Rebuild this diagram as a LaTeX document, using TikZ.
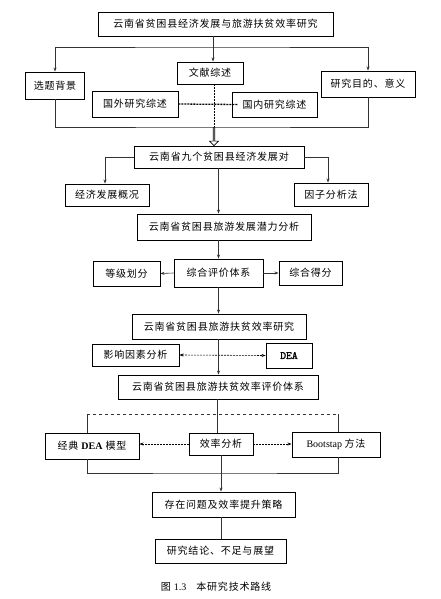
\documentclass[tikz,border=0pt]{standalone}
\usepackage{fontspec}
\setmainfont{Liberation Serif}
\newfontfamily\cjk[LetterSpace=8]{Noto Sans CJK SC}
\newfontfamily\deafont[FakeBold=2]{Latin Modern Mono}
\usetikzlibrary{positioning, calc, arrows.meta, shapes.arrows}

\begin{document}
\begin{tikzpicture}[x=1pt, y=-1pt, >={Stealth[length=4pt,width=3pt]},
    box/.style 2 args={draw, line width=0.9pt, inner sep=0pt, minimum width=#1, minimum height=#2,
        font=\cjk\fontsize{10}{12}\selectfont},
    link/.style={line width=0.6pt, black!80},
    dotlink/.style={line width=0.6pt, dashed, dash pattern=on 2pt off 1pt}]
    \useasboundingbox[fill=white] (0,0) rectangle (440,599);

    % Top part: background and literature
    \node[box={235pt}{24pt}] (title) at (215.5,24) {云南省贫困县经济发展与旅游扶贫效率研究};
    \node[box={59pt}{27pt}] (bg) at (55,85.5) {选题背景};
    \node[box={66pt}{22pt}] (lit) at (210,73) {文献综述};
    \node[box={94pt}{26pt}] (aim) at (368,84) {研究目的、意义};
    \node[box={86pt}{26pt}] (abroad) at (135,104) {国外研究综述};
    \node[box={85pt}{25pt}] (home) at (274.5,104.5) {国内研究综述};

    \coordinate (top) at (213,47);
    \coordinate (bot) at (214,127);
    \draw[link, ->] (title.south -| top) -- (lit.north -| top);
    \draw[link, <->] (bg.north) |- (top) -| (aim.north);
    \draw[link, line width=0.9pt] (bg.south) |- (bot) -| (aim.south);
    \draw[dotlink, line width=0.4pt] (lit.south -| bot) -- (bot);
    \draw[line width=1.3pt, dash pattern=on 2pt off 1pt] (abroad.east) -- ([xshift=6pt]home.west);

    % Economic development
    \node[box={170pt}{22pt}] (nine) at (219,157) {云南省九个贫困县经济发展对};
    \node[draw, single arrow, shape border rotate=270, line width=0.6pt, inner sep=0pt,
        minimum height=18pt, minimum width=9pt, single arrow head extend=1.5pt,
        single arrow head indent=0pt] (hollow) at ($(bot)!0.5!(bot |- nine.north)$) {};
    \node[box={84pt}{22pt}] (eco) at (107,195) {经济发展概况};
    \node[box={74pt}{23pt}] (factor) at (331,194.5) {因子分析法};
    \draw[link, ->] (nine.west) -| ([xshift=-2pt]eco.north);
    \draw[link, ->] (nine.east) -| ([xshift=-3pt]factor.north);

    % Tourism potential
    \node[box={174pt}{26pt}] (potential) at (224,227) {云南省贫困县旅游发展潜力分析};
    \node[box={89pt}{28pt}] (eval) at (218.5,273) {综合评价体系};
    \node[box={67pt}{25pt}] (grade) at (126.5,273.5) {等级划分};
    \node[box={63pt}{24pt}] (score) at (310.5,273) {综合得分};
    \draw[link, ->] (nine.south -| eval) -- (potential.north -| eval);
    \draw[link, ->] (potential.south -| eval) -- (eval.north);
    \draw[link, ->] (eval.west) -- (grade.east);
    \draw[link, ->] (eval.east) -- (score.west);

    % Poverty alleviation efficiency
    \node[box={174pt}{25pt}] (eff) at (219,326.5) {云南省贫困县旅游扶贫效率研究};
    \node[box={87pt}{22pt}] (infl) at (135.5,355) {影响因素分析};
    \node[box={46pt}{25pt}] (dea) at (289,355.5) {\deafont\fontsize{11}{12}\selectfont\bfseries DEA};
    \node[box={200pt}{24pt}] (sys) at (218,387) {云南省贫困县旅游扶贫效率评价体系};
    \draw[link, ->] (eval.south) -- (eff.north -| eval);
    \draw[dotlink, <->] (infl.east) -- (dea.west);
    \draw[link, ->] (eff.south -| eval) -- (sys.north -| eval);

    % Evaluation methods
    \node[box={94pt}{26pt}] (classic) at (92,446) {经典 {\rmfamily\bfseries DEA} 模型};
    \node[box={64pt}{22pt}] (anal) at (221,444) {效率分析};
    \node[box={88pt}{25pt}] (boot) at (336,444.5) {\rmfamily Bootstap {\cjk 方法}};
    \coordinate (split) at (217,414);
    \coordinate (join) at (217,473);
    \draw[link] (sys.south -| split) -- (anal.north -| split);
    \draw[link, dashed, line width=0.9pt] ([xshift=-5pt]classic.north |- split) -- ([xshift=2pt]boot.north |- split);
    \draw[link] ([xshift=-5pt]classic.north |- split) -- ([xshift=-5pt]classic.north);
    \draw[link] ([xshift=2pt]boot.north |- split) -- ([xshift=2pt]boot.north);
    \draw[dotlink, ->] (anal.west) -- (classic.east |- anal.west);
    \draw[dotlink, ->] (anal.east) -- (boot.west |- anal.east);
    \draw[link] ([xshift=-5pt]classic.south) |- (join) -| ([xshift=2pt]boot.south);

    % Conclusion
    \node[box={143pt}{25pt}] (prob) at (223.5,504.5) {存在问题及效率提升策略};
    \node[box={131pt}{24pt}] (concl) at (220.5,551) {研究结论、不足与展望};
    \draw[link, ->] (anal.south) -- (prob.north -| anal);
    \draw[link] (prob.south -| anal) -- (concl.north -| anal);

    \node[font=\cjk\fontsize{10}{12}\selectfont] (caption) at (216,587) {图 {\rmfamily 1.3}\quad 本研究技术路线};
\end{tikzpicture}
\end{document}
